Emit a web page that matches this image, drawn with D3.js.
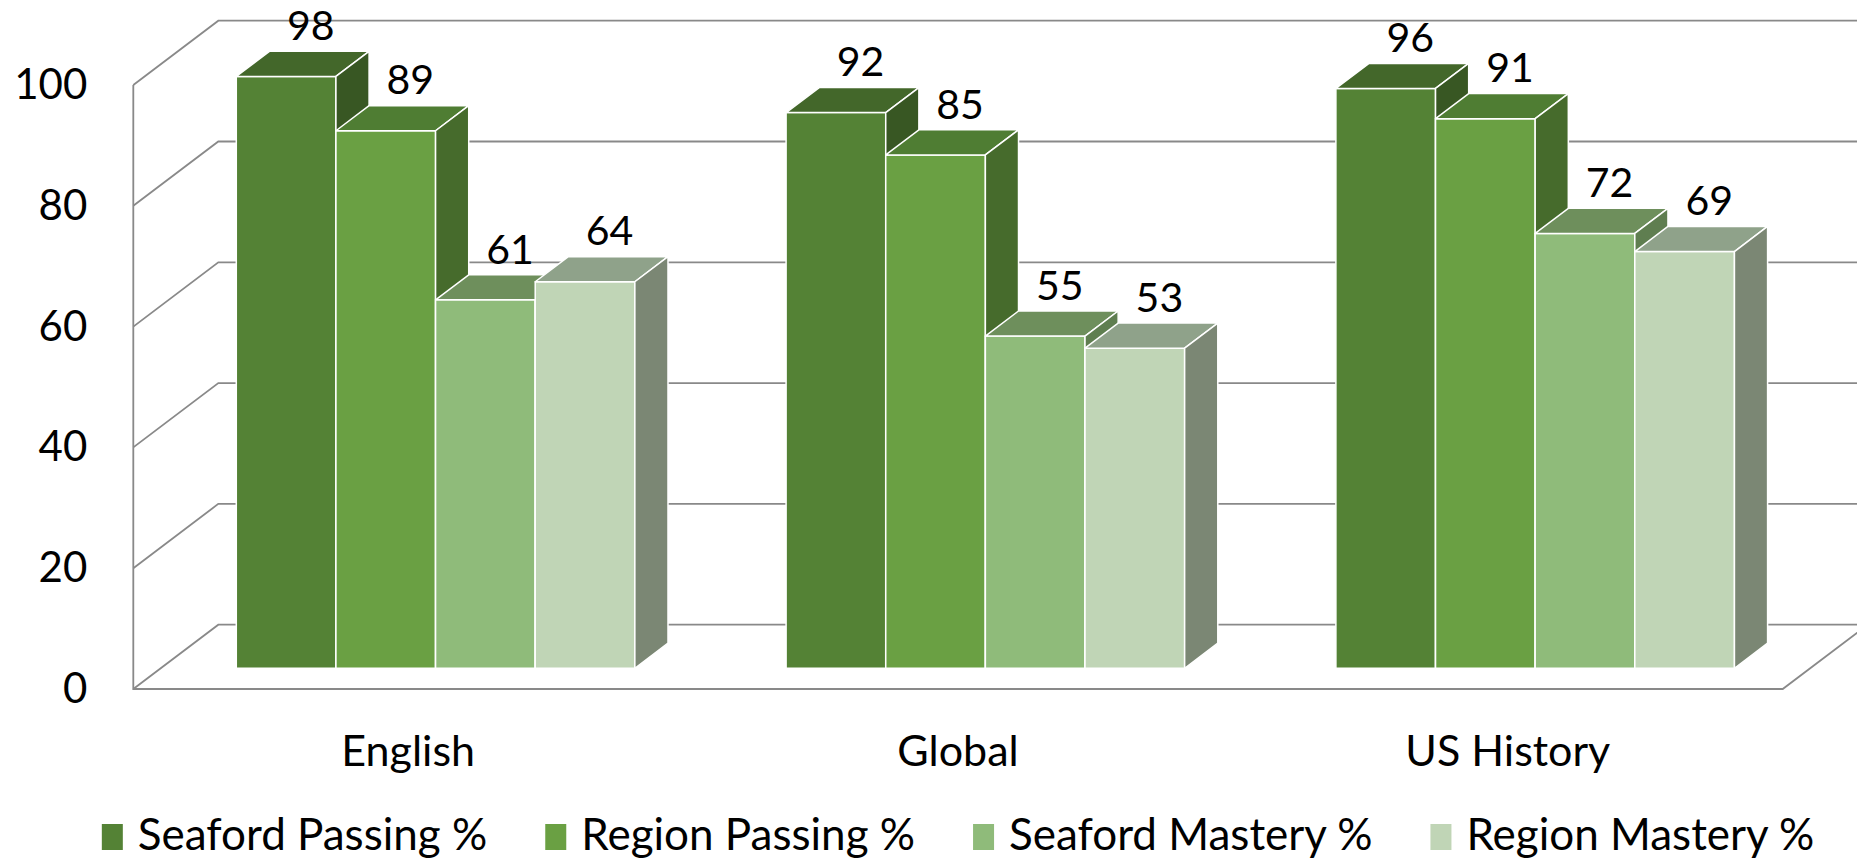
<!DOCTYPE html>
<meta charset="utf-8">
<script src="https://d3js.org/d3.v7.min.js"></script>
<style>
  body { margin: 0; background: #fff; }
  text { font-family: Lato, "Open Sans", sans-serif; fill: #000; }
</style>
<body>
<svg id="chart" width="1857" height="861"></svg>
<script>
// data
const categories = ["English", "Global", "US History"];
const seriesNames = ["Seaford Passing %", "Region Passing %", "Seaford Mastery %", "Region Mastery %"];
const seafordPassing = [98, 92, 96];
const regionPassing = [89, 85, 91];
const seafordMastery = [61, 55, 72];
const regionMastery = [64, 53, 69];
const yTicks = [0, 20, 40, 60, 80, 100];

const seriesValues = [seafordPassing, regionPassing, seafordMastery, regionMastery];
// front, top, side shades per series
const frontColors = ["#548235", "#6aa043", "#8fbb7a", "#c0d5b6"];
const topColors   = ["#43672a", "#4f7d33", "#6e8f5c", "#8fa28a"];
const sideColors  = ["#385723", "#466b2c", "#5f7e50", "#7b8774"];

var svg = d3.select("#chart");

// oblique 3d: depth vector of the full floor
const DX = 85, DY = -64.3;
const z0 = 0.322, z1 = 0.712;   // bar depth range

var x0 = d3.scaleBand().domain(categories).range([133.3, 1782.7]);
var x1 = d3.scaleBand().domain(seriesNames).range([0, x0.bandwidth()]).paddingOuter(0.759);
var y = d3.scaleLinear().domain([0, 100]).range([689, 85]);

function P(x, v, z) { return [x + z * DX, y(v) + z * DY]; }
function poly(pts) { return "M" + pts.map(p => p.join(",")).join("L") + "Z"; }

// walls and grid
var grid = svg.append("g").attr("stroke", "#898989").attr("stroke-width", 1.8).attr("fill", "none");
var xL = x0.range()[0], xR = x0.range()[1];
yTicks.forEach(function(t) {
  grid.append("path").attr("d", "M" + P(xL, t, 0) + "L" + P(xL, t, 1) + "L" + P(xR, t, 1));
});
grid.append("path").attr("d", "M" + P(xL, 100, 0) + "L" + P(xL, 0, 0) + "L" + P(xR, 0, 0) + "L" + P(xR, 0, 1));

// bars
var bars = svg.append("g").attr("stroke", "#fff").attr("stroke-width", 1.5).attr("stroke-linejoin", "round");
categories.forEach(function(cat, ci) {
  seriesNames.forEach(function(s, si) {
    var v = seriesValues[si][ci];
    var a = x0(cat) + x1(s), b = a + x1.bandwidth();
    var g = bars.append("g");
    g.append("path").attr("fill", frontColors[si])
      .attr("d", poly([P(a, 0, z0), P(b, 0, z0), P(b, v, z0), P(a, v, z0)]));
    g.append("path").attr("fill", topColors[si])
      .attr("d", poly([P(a, v, z0), P(b, v, z0), P(b, v, z1), P(a, v, z1)]));
    g.append("path").attr("fill", sideColors[si])
      .attr("d", poly([P(b, 0, z0), P(b, 0, z1), P(b, v, z1), P(b, v, z0)]));
    var lp = P((a + b) / 2 + 8, v, (z0 + z1) / 2);
    svg.append("text").attr("class", "vlabel")
      .attr("x", lp[0]).attr("y", P(a, v, z1)[1] - 26)
      .attr("dy", "0.36em").attr("text-anchor", "middle")
      .style("font-size", "41px").text(v);
  });
});

// y axis labels
var yAxis = svg.append("g").attr("transform", "translate(" + xL + ",0)")
  .call(d3.axisLeft(y).tickValues(yTicks).tickSize(0).tickPadding(46));
yAxis.select(".domain").remove();
yAxis.selectAll("text").style("font-size", "42px").style("font-family", "Lato").attr("fill", "#000");

// category labels
var xAxis = svg.append("g").attr("transform", "translate(0,689)")
  .call(d3.axisBottom(x0).tickSize(0).tickPadding(46));
xAxis.select(".domain").remove();
xAxis.selectAll("text").style("font-size", "43px").style("font-family", "Lato").attr("fill", "#000");

// legend
var legend = svg.append("g");
var lx = 0;
seriesNames.forEach(function(s, i) {
  var item = legend.append("g").attr("transform", "translate(" + lx + ",0)");
  item.append("rect").attr("x", 0).attr("y", 824).attr("width", 21).attr("height", 26).attr("fill", frontColors[i]);
  var t = item.append("text").attr("x", 36).attr("y", 850).style("font-size", "44px").text(s);
  lx += 36 + t.node().getComputedTextLength() + 58;
});
var lw = lx - 58;
legend.attr("transform", "translate(" + (958 - lw / 2) + ",0)");
</script>
</body>
